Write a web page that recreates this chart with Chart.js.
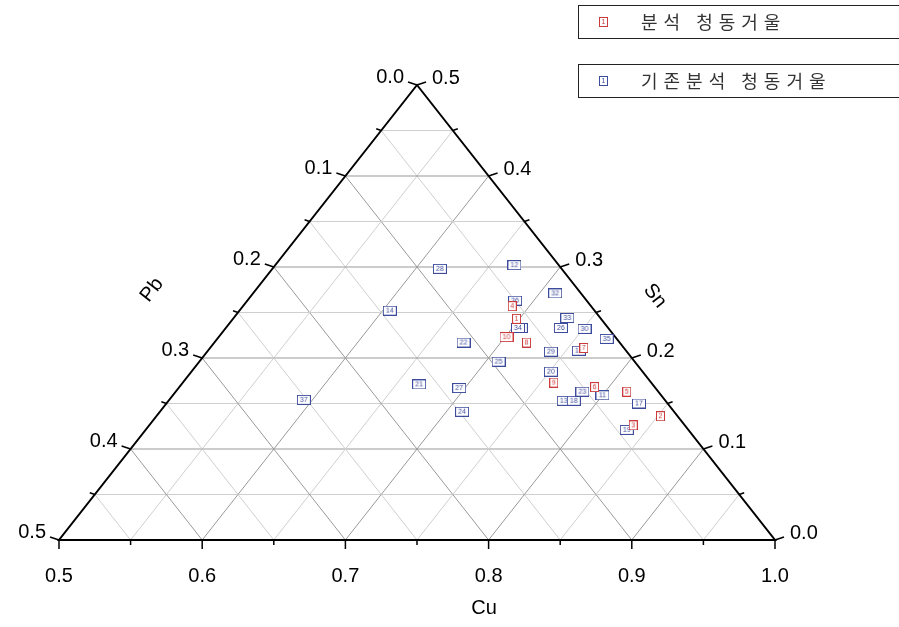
<!DOCTYPE html>
<html>
<head>
<meta charset="utf-8">
<script src="https://cdn.jsdelivr.net/npm/chart.js@4.4.0/dist/chart.umd.min.js"></script>
<style>
  body { margin: 0; background: #fff; }
</style>
</head>
<body>
<canvas id="tern" width="899" height="627"></canvas>
<script>
// 분석 청동거울 (red)
var newLabels = ['1', '2', '3', '4', '5', '6', '7', '8', '9', '10'];
var newCu = [0.698, 0.852, 0.838, 0.688, 0.815, 0.790, 0.761, 0.718, 0.759, 0.701];
var newSn = [0.243, 0.136, 0.126, 0.257, 0.163, 0.168, 0.211, 0.217, 0.173, 0.223];
var newPb = [0.059, 0.012, 0.036, 0.055, 0.022, 0.042, 0.028, 0.065, 0.068, 0.076];

// 기존분석 청동거울 (blue)
var oldLabels = ['11', '12', '13', '14', '15', '17', '18', '19', '20', '21', '22', '23', '24',
                 '25', '26', '27', '28', '29', '30', '31', '32', '33', '34', '35', '36', '37'];
var oldCu = [0.800, 0.667, 0.776, 0.605, 0.759, 0.830, 0.783, 0.836, 0.751, 0.666, 0.674, 0.784, 0.711,
             0.709, 0.734, 0.696, 0.617, 0.740, 0.751, 0.706, 0.711, 0.733, 0.704, 0.772, 0.687, 0.594];
var oldSn = [0.159, 0.302, 0.153, 0.252, 0.208, 0.150, 0.153, 0.121, 0.185, 0.171, 0.217, 0.163, 0.141,
             0.196, 0.233, 0.167, 0.298, 0.207, 0.232, 0.233, 0.271, 0.244, 0.233, 0.221, 0.263, 0.154];
var oldPb = [0.041, 0.031, 0.071, 0.143, 0.033, 0.020, 0.064, 0.043, 0.064, 0.163, 0.109, 0.053, 0.148,
             0.095, 0.033, 0.137, 0.085, 0.053, 0.017, 0.061, 0.018, 0.023, 0.063, 0.007, 0.050, 0.252];

var cuTicks = ['0.5', '0.6', '0.7', '0.8', '0.9', '1.0'];
var pbTicks = ['0.0', '0.1', '0.2', '0.3', '0.4', '0.5'];
var snTicks = ['0.0', '0.1', '0.2', '0.3', '0.4', '0.5'];

var RED = '#cc3b3b', BLUE = '#3d4b9c';
var FONT = '"Liberation Sans", Arial, sans-serif';
var KFONT = '"Noto Sans CJK KR", sans-serif';

// Cu 0.5-1.0 (bottom), Sn 0-0.5 (right), Pb 0-0.5 (left) -> cartesian 0..1
function tern(cu, sn) {
    var a = (cu - 0.5) / 0.5, c = sn / 0.5;
    return { x: a + c / 2, y: c };
}
function toPoints(cu, sn) {
    return cu.map(function (v, i) { return tern(v, sn[i]); });
}

function boxMarker(text, color) {
    var w = text.length > 1 ? 14 : 9, h = 10;
    var c = document.createElement('canvas');
    c.width = w; c.height = h;
    var g = c.getContext('2d');
    g.fillStyle = '#fff';
    g.fillRect(0, 0, w, h);
    g.strokeStyle = color;
    g.lineWidth = 1;
    g.strokeRect(0.5, 0.5, w - 1, h - 1);
    g.fillStyle = color;
    g.font = '7px ' + FONT;
    g.textAlign = 'center';
    g.textBaseline = 'middle';
    g.fillText(text, w / 2, h / 2 + 0.5);
    return c;
}
var newMarks = newLabels.map(function (t) { return boxMarker(t, RED); });
var oldMarks = oldLabels.map(function (t) { return boxMarker(t, BLUE); });

var ternaryFrame = {
    id: 'ternaryFrame',
    beforeDatasetsDraw: function (chart) {
        var ctx = chart.ctx, sx = chart.scales.x, sy = chart.scales.y;
        function P(x, y) { return [sx.getPixelForValue(x), sy.getPixelForValue(y)]; }
        function line(p, q) {
            ctx.beginPath();
            ctx.moveTo(p[0], p[1]);
            ctx.lineTo(q[0], q[1]);
            ctx.stroke();
        }
        ctx.save();
        ctx.lineWidth = 1;
        // grid
        for (var i = 1; i < 10; i++) {
            var t = i / 10;
            ctx.strokeStyle = i % 2 === 0 ? '#999999' : '#cfcfcf';
            line(P(1 - t / 2, t), P(t / 2, t));                 // Sn const
            line(P(t, 0), P(t + (1 - t) / 2, 1 - t));           // Cu const
            line(P(1 - t, 0), P((1 - t) / 2, 1 - t));           // Pb const
        }
        // frame
        ctx.strokeStyle = '#000';
        ctx.lineWidth = 2;
        ctx.beginPath();
        var A = P(0, 0), B = P(1, 0), C = P(0.5, 1);
        ctx.moveTo(A[0], A[1]); ctx.lineTo(B[0], B[1]); ctx.lineTo(C[0], C[1]); ctx.closePath();
        ctx.stroke();

        // ticks
        ctx.lineWidth = 1.5;
        for (var k = 0; k <= 10; k++) {
            var f = k / 10, major = k % 2 === 0;
            var len = major ? 9 : 5;
            var b = P(f, 0);
            line(b, [b[0], b[1] + len]);
            var l = P(f / 2, f);
            line(l, [l[0] - len, l[1] - len / 3]);
            var r = P(1 - f / 2, f);
            line(r, [r[0] + len, r[1] - len / 3]);
        }

        // tick labels
        ctx.fillStyle = '#000';
        ctx.font = '20px ' + FONT;
        for (var j = 0; j < 6; j++) {
            var v = j / 5;
            var pb = P(v, 0);
            ctx.textAlign = 'center'; ctx.textBaseline = 'middle';
            ctx.fillText(cuTicks[j], pb[0], pb[1] + 36);
            var pl = P((1 - v) / 2, 1 - v);
            ctx.textAlign = 'right';
            ctx.fillText(pbTicks[j], pl[0] - 13, pl[1] - 8);
            var pr = P(1 - v / 2, v);
            ctx.textAlign = 'left';
            ctx.fillText(snTicks[j], pr[0] + 15, pr[1] - 7);
        }

        // axis titles
        var ang = Math.atan2(A[1] - C[1], C[0] - A[0]);
        ctx.font = '20px ' + FONT;
        ctx.textAlign = 'center'; ctx.textBaseline = 'middle';
        ctx.fillText('Cu', (A[0] + B[0]) / 2 + 67, A[1] + 68);
        ctx.save();
        ctx.translate(152, 290); ctx.rotate(-ang);
        ctx.fillText('Pb', 0, 0);
        ctx.restore();
        ctx.save();
        ctx.translate(655, 296); ctx.rotate(ang);
        ctx.fillText('Sn', 0, 0);
        ctx.restore();
        ctx.restore();
    },
    afterDraw: function (chart) {
        var ctx = chart.ctx;
        var items = [
            { y: 5, text: '분석 청동거울', mark: boxMarker('1', RED) },
            { y: 64, text: '기존분석 청동거울', mark: boxMarker('1', BLUE) }
        ];
        ctx.save();
        items.forEach(function (it) {
            ctx.strokeStyle = '#222';
            ctx.lineWidth = 1;
            ctx.strokeRect(578.5, it.y + 0.5, 340, 33);
            ctx.drawImage(it.mark, 599, it.y + 12);
            ctx.fillStyle = '#333';
            ctx.font = '18px ' + KFONT;
            ctx.letterSpacing = '6px';
            ctx.textAlign = 'left';
            ctx.textBaseline = 'middle';
            ctx.fillText(it.text, 641, it.y + 17);
        });
        ctx.restore();
    }
};

new Chart(document.getElementById('tern'), {
    type: 'scatter',
    data: {
        datasets: [
            {
                label: '분석 청동거울',
                data: toPoints(newCu, newSn),
                pointStyle: function (c) { return newMarks[c.dataIndex]; },
                pointRadius: 3
            },
            {
                label: '기존분석 청동거울',
                data: toPoints(oldCu, oldSn),
                pointStyle: function (c) { return oldMarks[c.dataIndex]; },
                pointRadius: 3
            }
        ]
    },
    options: {
        responsive: false,
        animation: false,
        events: [],
        layout: { padding: { left: 59, right: 124, top: 85, bottom: 87 } },
        scales: {
            x: { type: 'linear', min: 0, max: 1, display: false },
            y: { type: 'linear', min: 0, max: 1, display: false }
        },
        plugins: {
            legend: { display: false },
            tooltip: { enabled: false }
        }
    },
    plugins: [ternaryFrame]
});
</script>
</body>
</html>
